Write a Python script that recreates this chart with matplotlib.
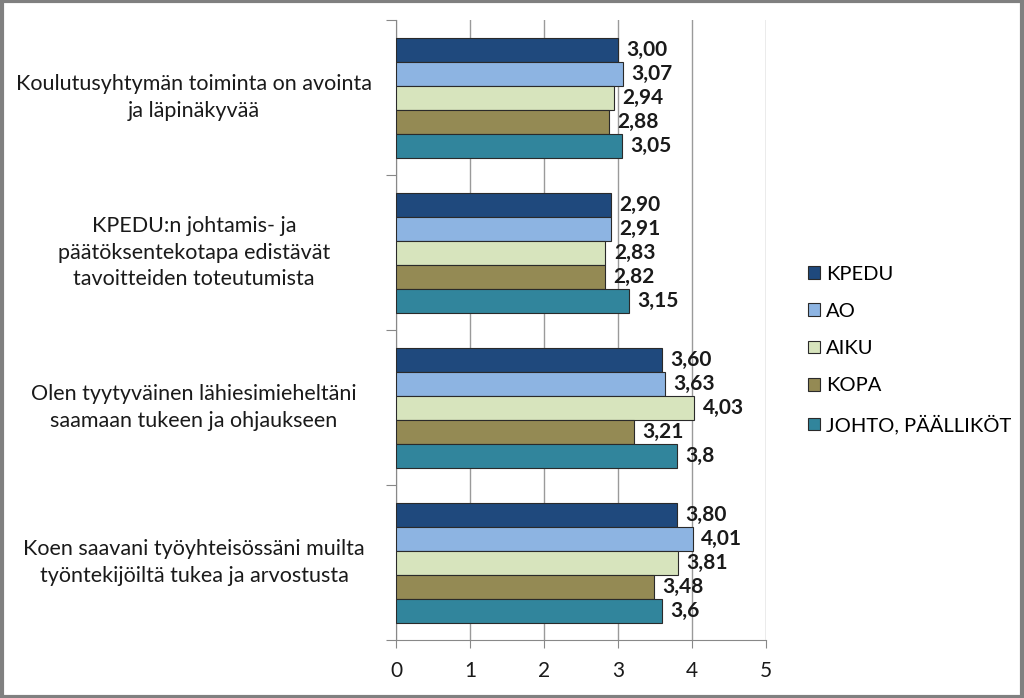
import matplotlib.pyplot as plt
import numpy as np
from matplotlib.patches import Rectangle

# kysymykset (ylhäältä alas)
questions = [
    "Koulutusyhtymän toiminta on avointa\nja läpinäkyvää",
    "KPEDU:n johtamis- ja\npäätöksentekotapa edistävät\ntavoitteiden toteutumista",
    "Olen tyytyväinen lähiesimieheltäni\nsaamaan tukeen ja ohjaukseen",
    "Koen saavani työyhteisössäni muilta\ntyöntekijöiltä tukea ja arvostusta",
]
series = ["KPEDU", "AO", "AIKU", "KOPA", "JOHTO, PÄÄLLIKÖT"]
kpedu = [3.00, 2.90, 3.60, 3.80]
ao = [3.07, 2.91, 3.63, 4.01]
aiku = [2.94, 2.83, 4.03, 3.81]
kopa = [2.88, 2.82, 3.21, 3.48]
johto = [3.05, 3.15, 3.8, 3.6]
labels_johto = ["3,05", "3,15", "3,8", "3,6"]
colors = ["#1F497D", "#8DB4E2", "#D7E4BD", "#948A54", "#31859C"]

plt.rcParams['font.family'] = ['Lato', 'DejaVu Sans']

fig = plt.figure(figsize=(10.24, 6.98), dpi=100)
ax = fig.add_axes([396 / 1024, 1 - 640 / 698, 370 / 1024, 620 / 698])

values = [kpedu, ao, aiku, kopa, johto]
n_q = len(questions)
bar_h = 24 / 155
offsets = (np.arange(5) - 2) * bar_h
centers = np.arange(n_q)[::-1] + 0.5

for i, (name, vals, col) in enumerate(zip(series, values, colors)):
    y = centers - offsets[i]
    ax.barh(y, vals, height=bar_h, color=col, edgecolor="#2a2a2a",
            linewidth=0.8, label=name, zorder=3)
    for j, v in enumerate(vals):
        txt = labels_johto[j] if name.startswith("JOHTO") else f"{v:.2f}".replace(".", ",")
        ax.annotate(txt, (v, y[j]), xytext=(6, 0), textcoords="offset points",
                    ha="left", va="center", fontsize=15, fontweight="bold",
                    color="#1a1a1a")

ax.set_xlim(0, 5)
ax.set_ylim(0, n_q)
ax.set_xticks(range(6))
ax.tick_params(axis="x", labelsize=15, length=6, color="#888888", pad=9,
               labelcolor="#1a1a1a")
ax.xaxis.grid(True, color="#9a9a9a", linewidth=1, zorder=0)
ax.set_yticks(range(n_q + 1))
ax.set_yticklabels([])
ax.tick_params(axis="y", length=7, color="#888888")

# kysymystekstit vasemmalle, keskitettynä
x_text = -(396 - 194) / 370
for c, q in zip(centers, questions):
    ax.text(x_text, c, q, ha="center", va="center", fontsize=15.5,
            color="#1a1a1a", transform=ax.get_yaxis_transform(),
            linespacing=1.4)

for s in ["top", "right"]:
    ax.spines[s].set_visible(False)
for s in ["left", "bottom"]:
    ax.spines[s].set_color("#888888")

handles, labs = ax.get_legend_handles_labels()
fig.legend(handles, labs, loc="center left", bbox_to_anchor=(790 / 1024, 1 - 350 / 698),
           frameon=False, fontsize=14.5, handlelength=0.6, handleheight=0.6,
           handletextpad=0.3, labelspacing=1.0)

fig.patches.append(Rectangle((0.0015, 0.002), 0.997, 0.996, transform=fig.transFigure,
                             fill=False, edgecolor="#808080", linewidth=3))

fig.savefig("out.png", dpi=100)
